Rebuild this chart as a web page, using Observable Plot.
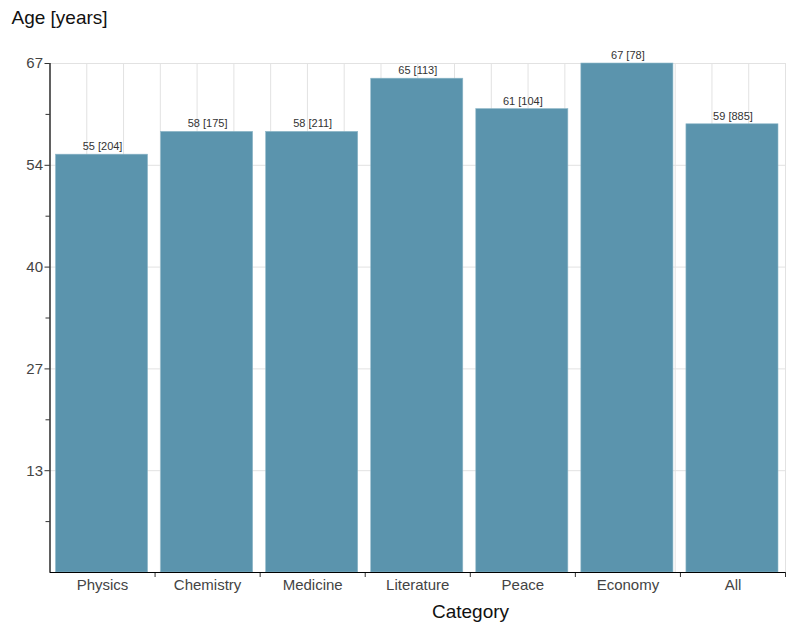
<!DOCTYPE html>
<html>
<head>
<meta charset="utf-8">
<script src="https://cdn.jsdelivr.net/npm/d3@7"></script>
<script src="https://cdn.jsdelivr.net/npm/@observablehq/plot@0.6"></script>
<style>
  html, body { margin: 0; padding: 0; background: #fff; }
  svg { display: block; }
</style>
</head>
<body>
<div id="chart"></div>
<script>
const categories = ["Physics", "Chemistry", "Medicine", "Literature", "Peace", "Economy", "All"];
const ages = [55, 58, 58, 65, 61, 67, 59];
const counts = [204, 175, 211, 113, 104, 78, 885];
const yMax = 67;
const yMajorTicks = [1, 2, 3, 4, 5].map(k => yMax * k / 5);
const yMinorTicks = [1, 3, 5, 7, 9].map(k => yMax * k / 10);
const xGridTicks = d3.range(0, 21).map(k => k * categories.length / 20);

const data = categories.map((c, i) => ({cat: c, i, age: ages[i], n: counts[i]}));

const font = "Liberation Sans, Arial, sans-serif";

const chart = Plot.plot({
  width: 808,
  height: 627,
  marginLeft: 49.5,
  marginRight: 23,
  marginTop: 63,
  marginBottom: 55,
  style: {fontFamily: font, background: "#fff", overflow: "visible"},
  x: {type: "linear", domain: [0, categories.length], axis: null},
  y: {domain: [0, yMax], axis: null},
  marks: [
    Plot.ruleX(xGridTicks, {stroke: "#e2e2e2", strokeWidth: 1}),
    Plot.ruleY(yMajorTicks, {stroke: "#e2e2e2", strokeWidth: 1}),
    Plot.rectY(data, {
      x1: d => d.i, x2: d => d.i + 1, y1: 0, y2: "age",
      insetLeft: 6, insetRight: 7,
      fill: "#5b94ad", stroke: "#8fb8c9", strokeWidth: 0.6
    }),
    Plot.text(data, {
      x: d => d.i + 0.5, y: "age",
      text: d => `${d.age} [${d.n}]`,
      dy: -8, fontSize: 11, fill: "#333", fontFamily: font
    }),
    Plot.axisY({ticks: yMajorTicks, tickFormat: d => Math.round(d), tickSize: 5, tickPadding: 2,
      fontSize: 15, color: "#444", label: null, stroke: "#333"}),
    Plot.axisY({ticks: yMinorTicks, tickFormat: () => "", tickSize: 4, label: null, stroke: "#333"}),
    Plot.axisX({ticks: d3.range(1, categories.length + 1), tickFormat: () => "", tickSize: 5, label: null, stroke: "#333"}),
    Plot.axisX({ticks: categories.map((c, i) => i + 0.5), tickFormat: d => categories[Math.floor(d)],
      tickSize: 0, tickPadding: 7, fontSize: 15, color: "#444", label: null}),
    Plot.ruleY([0], {stroke: "#000", strokeWidth: 1.2}),
    Plot.ruleX([0], {stroke: "#000", strokeWidth: 1.2}),
    Plot.text(["Age [years]"], {frameAnchor: "top-left", dx: -38.5, dy: -46,
      textAnchor: "start", lineAnchor: "middle", fontSize: 19, fill: "#111", fontFamily: font}),
    Plot.text(["Category"], {frameAnchor: "bottom-left", dx: 420.5, dy: 39,
      textAnchor: "middle", lineAnchor: "middle", fontSize: 19, fill: "#111", fontFamily: font})
  ]
});
document.getElementById("chart").appendChild(chart);
</script>
</body>
</html>
